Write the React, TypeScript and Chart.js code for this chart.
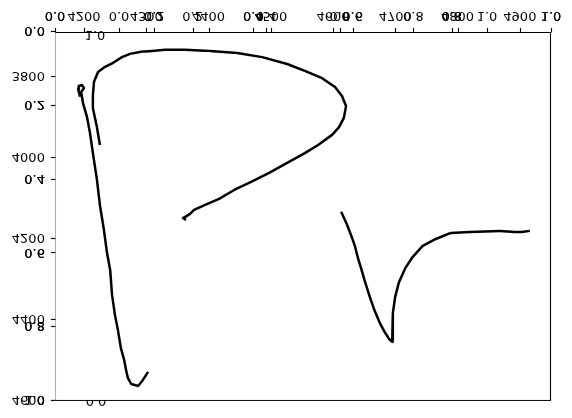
import React, { useEffect, useRef } from "react";
import { Chart, registerables } from "chart.js";

Chart.register(...registerables);

// ---- tick labels ----
const unitTicks = [0, 0.2, 0.4, 0.6, 0.8, 1.0];
const fracTicks = [0, 0.2, 0.4, 0.6, 0.8, 1.0];
const depthXTicks = [4200, 4300, 4400, 4500, 4600, 4700, 4800, 4900];
const depthYTicks = [3800, 4000, 4200, 4400, 4600];
const strayTop = "1.0";
const strayBottom = "0.0";

// ---- series ----
const curve1Frac = [-0.106, -0.111, -0.109, -0.101, -0.095, -0.103, -0.098, -0.087, -0.079, -0.071, -0.06, -0.052, -0.041, -0.033, -0.024, -0.019, -0.011, -0.003, 0.005, 0.014, 0.019, 0.024, 0.033, 0.052, 0.065, 0.079];
const curve1Depth = [3849, 3830, 3822, 3820, 3827, 3837, 3864, 3899, 3938, 3988, 4054, 4116, 4178, 4232, 4277, 4338, 4388, 4425, 4469, 4499, 4523, 4543, 4558, 4563, 4548, 4528];

const curve2Frac = [-0.052, -0.06, -0.071, -0.071, -0.068, -0.057, -0.038, -0.016, 0.008, 0.03, 0.06, 0.09, 0.125, 0.179, 0.247, 0.321, 0.389, 0.457, 0.505, 0.552, 0.587, 0.606, 0.617, 0.611, 0.598, 0.579, 0.541, 0.505, 0.457, 0.408, 0.359, 0.313, 0.272, 0.234, 0.204, 0.193, 0.179, 0.174, 0.182];
const curve2Depth = [3968, 3924, 3877, 3844, 3812, 3788, 3775, 3765, 3751, 3743, 3738, 3736, 3733, 3733, 3736, 3741, 3751, 3768, 3785, 3803, 3825, 3847, 3872, 3901, 3924, 3943, 3968, 3988, 4012, 4037, 4059, 4079, 4101, 4116, 4128, 4138, 4146, 4148, 4153];

const curve3X = [4613, 4622, 4630, 4635, 4640, 4645, 4651, 4659, 4667, 4675, 4683, 4690, 4695, 4696, 4696, 4696, 4700, 4706, 4716, 4728, 4744, 4765, 4789, 4820, 4868, 4892, 4903, 4916];
const curve3Depth = [4133, 4163, 4195, 4217, 4247, 4272, 4304, 4343, 4378, 4407, 4430, 4447, 4454, 4447, 4412, 4383, 4341, 4306, 4272, 4244, 4217, 4200, 4185, 4183, 4180, 4183, 4183, 4180];

const toPoints = (xs: number[], ys: number[]) => xs.map((x, i) => ({ x, y: ys[i] }));

const FS = 13;
const FONT = `${FS}px "DejaVu Sans"`;
const TICK = 4.6;
const PAD_X = 6.3;
const PAD_Y = 6.0;

const axesPlugin = {
  id: "mplAxes",
  afterDraw(chart: any) {
    const ctx: CanvasRenderingContext2D = chart.ctx;
    const { left, right, top, bottom } = chart.chartArea;
    const L = Math.round(left) + 0.5;
    const R = Math.round(right) - 0.5;
    const T = Math.round(top) + 0.5;
    const B = Math.round(bottom) - 0.5;
    const s = chart.scales;
    ctx.save();
    ctx.lineWidth = 1.1;
    // spines
    ctx.strokeStyle = "#b0b0b0";
    ctx.beginPath();
    ctx.moveTo(L, T);
    ctx.lineTo(L, B);
    ctx.stroke();
    ctx.strokeStyle = "#000";
    ctx.beginPath();
    ctx.moveTo(L, B);
    ctx.lineTo(R, B);
    ctx.lineTo(R, T);
    ctx.lineTo(L, T);
    ctx.stroke();

    ctx.font = FONT;
    ctx.fillStyle = "#000";
    const digitH = 0.729 * FS;
    const digitMid = digitH / 2;

    const xAxis = (scale: any, ticks: number[], fmt: (v: number) => string, times: number) => {
      ticks.forEach((v) => {
        const px = scale.getPixelForValue(v);
        const xp = Math.round(px) + 0.5;
        ctx.beginPath();
        ctx.moveTo(xp, B);
        ctx.lineTo(xp, B + TICK);
        ctx.stroke();
        ctx.textAlign = "center";
        ctx.textBaseline = "alphabetic";
        for (let k = 0; k < times; k++) ctx.fillText(fmt(v), px, B + TICK + PAD_X + digitH);
      });
    };
    const yAxis = (scale: any, ticks: number[], fmt: (v: number) => string, times: number) => {
      ticks.forEach((v) => {
        const py = scale.getPixelForValue(v);
        const yp = Math.round(py) + 0.5;
        ctx.beginPath();
        ctx.moveTo(L - TICK, yp);
        ctx.lineTo(L, yp);
        ctx.stroke();
        ctx.textAlign = "right";
        ctx.textBaseline = "alphabetic";
        for (let k = 0; k < times; k++) ctx.fillText(fmt(v), L - TICK - PAD_Y, py + digitMid);
      });
    };
    const f1 = (v: number) => v.toFixed(1);
    const f0 = (v: number) => String(v);
    xAxis(s.xDepth, depthXTicks, f0, 1);
    xAxis(s.xFrac, fracTicks, f1, 1);
    xAxis(s.x, unitTicks, f1, 2);
    yAxis(s.yDepth, depthYTicks, f0, 1);
    yAxis(s.y, unitTicks, f1, 2);

    // partially hidden stray labels
    ctx.textAlign = "center";
    ctx.textBaseline = "alphabetic";
    ctx.fillText(strayTop, left + 40, B + 1.5);
    ctx.save();
    ctx.beginPath();
    ctx.rect(0, 0, chart.width, Math.round(top));
    ctx.clip();
    ctx.fillText(strayBottom, left + 41, 12 + digitH);
    ctx.restore();
    ctx.restore();
  },
};

export default function App() {
  const ref = useRef<HTMLCanvasElement>(null);
  useEffect(() => {
    document.body.style.margin = "0";
    const line = { borderColor: "#000", borderWidth: 2.5, pointRadius: 0, fill: false, tension: 0, borderJoinStyle: "round" as const };
    const chart = new Chart(ref.current!, {
      type: "line",
      data: {
        datasets: [
          { label: "curve 1", data: toPoints(curve1Frac, curve1Depth), xAxisID: "xFrac", yAxisID: "yDepth", ...line },
          { label: "curve 2", data: toPoints(curve2Frac, curve2Depth), xAxisID: "xFrac", yAxisID: "yDepth", ...line },
          { label: "curve 3", data: toPoints(curve3X, curve3Depth), xAxisID: "xDepth", yAxisID: "yDepth", ...line },
        ],
      },
      options: {
        animation: false,
        responsive: false,
        devicePixelRatio: 1,
        events: [],
        layout: { padding: { left: 55, right: 21, top: 17, bottom: 32 } },
        plugins: { legend: { display: false }, tooltip: { enabled: false } },
        scales: {
          x: { type: "linear", display: false, min: 0, max: 1 },
          y: { type: "linear", display: false, min: 0, max: 1 },
          xFrac: { type: "linear", axis: "x", display: false, min: -0.174, max: 1.174 },
          xDepth: { type: "linear", axis: "x", display: false, min: 4153.5, max: 4950 },
          yDepth: { type: "linear", axis: "y", display: false, min: 3689, max: 4600 },
        },
      },
      plugins: [axesPlugin],
    });
    return () => chart.destroy();
  }, []);
  return (
    <div style={{ width: 572, height: 418 }}>
      <canvas ref={ref} width={572} height={418} style={{ display: "block", width: 572, height: 418, transform: "scaleY(-1)" }} />
    </div>
  );
}
